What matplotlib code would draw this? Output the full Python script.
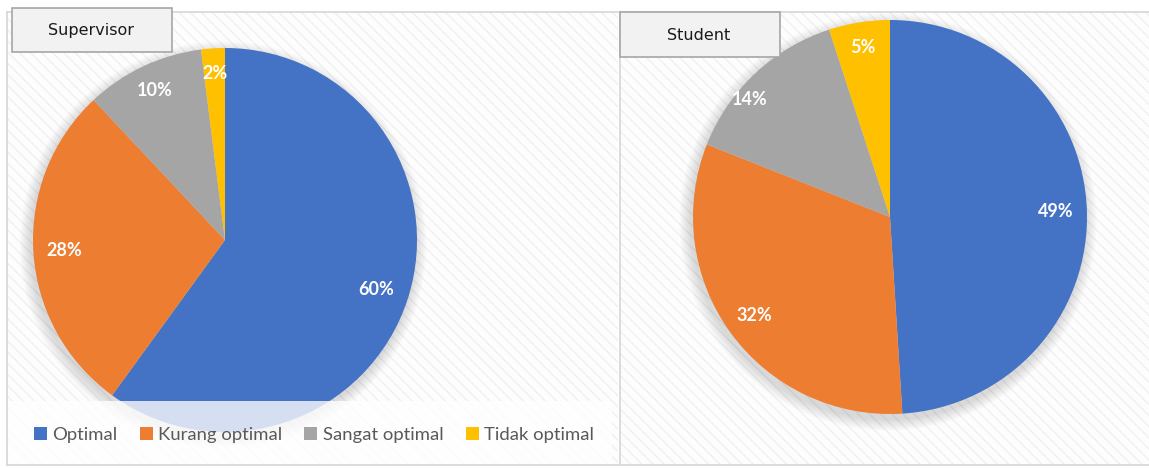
import matplotlib
matplotlib.use("Agg")
import matplotlib.pyplot as plt
from matplotlib.patches import Rectangle, Circle
import numpy as np

categories = ["Optimal", "Kurang optimal", "Sangat optimal", "Tidak optimal"]
supervisor = [60, 28, 10, 2]
student = [49, 32, 14, 5]
colors = ["#4472C4", "#ED7D31", "#A5A5A5", "#FFC000"]

W, H = 1149, 468
plt.rcParams["hatch.linewidth"] = 0.9

fig = plt.figure(figsize=(W / 100, H / 100), dpi=100)

# background layer in pixel coordinates (y down)
bg = fig.add_axes([0, 0, 1, 1], zorder=0)
bg.set_xlim(0, W)
bg.set_ylim(H, 0)
bg.axis("off")


def panel(x0, y0, x1, y1, right_edge=True):
    bg.add_patch(Rectangle((x0, y0), x1 - x0, y1 - y0, facecolor="#FDFDFD",
                           edgecolor="#EFEFEF", hatch="\\\\\\", linewidth=0))
    kw = dict(color="#D6D6D6", linewidth=1.2)
    bg.plot([x0, x0], [y0, y1], **kw)
    bg.plot([x0, x1], [y0, y0], **kw)
    bg.plot([x0, x1], [y1, y1], **kw)
    if right_edge:
        bg.plot([x1, x1], [y0, y1], **kw)


panel(7, 12, 618, 465, right_edge=False)
panel(620, 12, 1152, 465)


def draw_pie(cx, cy, r, values, dists, nudges):
    m = 1.15
    ax = fig.add_axes([(cx - m * r) / W, (H - cy - m * r) / H,
                       2 * m * r / W, 2 * m * r / H], zorder=1)
    # soft drop shadow
    for k in range(12):
        rr = 1.0 + 0.005 * (12 - k)
        ax.add_patch(Circle((-0.01, -0.025), rr, facecolor="#000000",
                            alpha=0.012, linewidth=0))
    wedges, _ = ax.pie(values, colors=colors, startangle=90,
                       counterclock=False, radius=1.0,
                       wedgeprops=dict(linewidth=0))
    ax.set_xlim(-m, m)
    ax.set_ylim(-m, m)
    ax.axis("off")
    for w, v, d, n in zip(wedges, values, dists, nudges):
        mid = np.deg2rad((w.theta1 + w.theta2) / 2 + n)
        ax.text(d * np.cos(mid), d * np.sin(mid), f"{v}%", ha="center",
                va="center", color="white", fontsize=13, fontweight="bold",
                family="Lato")
    return wedges


wedges = draw_pie(225, 240, 192, supervisor, [0.83, 0.84, 0.86, 0.87],
                  [0, 0, 0, 0])
draw_pie(890, 217, 197, student, [0.84, 0.85, 0.93, 0.87], [0, 0, 7, 0])

# overlay layer: legend backdrop and title boxes
ov = fig.add_axes([0, 0, 1, 1], zorder=2)
ov.set_xlim(0, W)
ov.set_ylim(H, 0)
ov.axis("off")
ov.patch.set_alpha(0)
ov.add_patch(Rectangle((8, 401), 604, 63, facecolor="white", alpha=0.78,
                       linewidth=0))

for (x0, y0, x1, y1), title in [((12, 8, 172, 52), "Supervisor"),
                                ((620, 12, 780, 57), "Student")]:
    ov.add_patch(Rectangle((x0, y0), x1 - x0, y1 - y0, facecolor="#F2F2F2",
                           edgecolor="#A6A6A6", linewidth=1.2))
    ov.text((x0 + x1) / 2 - 1, (y0 + y1) / 2 + 1, title, ha="center",
            va="center", fontsize=11.5, color="#1A1A1A", family="DejaVu Sans")

fig.legend(wedges, categories, loc="center", bbox_to_anchor=(314 / W, 1 - 435 / H),
           ncol=4, frameon=False, handlelength=0.7, handleheight=0.7,
           handletextpad=0.3, columnspacing=1.2,
           labelcolor="#595959", prop={"family": "Lato", "size": 13.3})

fig.savefig("out.png", dpi=100)
